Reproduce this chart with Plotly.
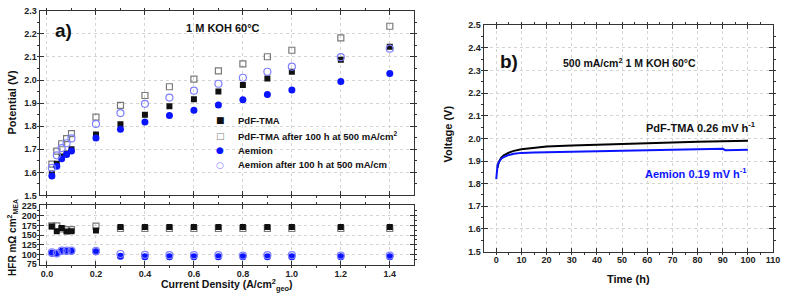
import plotly.graph_objects as go

# ---------------- data: panel a) polarization ----------------
J = [0.02, 0.04, 0.06, 0.08, 0.1, 0.2, 0.3, 0.4, 0.5, 0.6, 0.7, 0.8, 0.9, 1.0, 1.2, 1.4]
pdf_v = [1.595, 1.637, 1.669, 1.682, 1.700, 1.764, 1.808, 1.850, 1.886, 1.917, 1.950, 1.978, 2.007, 2.036, 2.088, 2.144]
pdf_aged_v = [1.636, 1.692, 1.724, 1.746, 1.768, 1.839, 1.890, 1.933, 1.971, 2.004, 2.040, 2.070, 2.101, 2.129, 2.183, 2.233]
aem_v = [1.584, 1.626, 1.659, 1.677, 1.692, 1.749, 1.787, 1.818, 1.846, 1.869, 1.892, 1.915, 1.937, 1.957, 1.994, 2.028]
aem_aged_v = [1.619, 1.674, 1.705, 1.726, 1.747, 1.810, 1.857, 1.897, 1.924, 1.954, 1.984, 2.010, 2.036, 2.058, 2.099, 2.136]

pdf_hfr = [172, 160, 168, 159, 160, 162, 171, 171, 171, 171, 171, 171, 171, 171, 171, 171]
pdf_aged_hfr = [174, 174, 166, 164, 164, 173, 167, 167, 167, 167, 167, 167, 167, 167, 167, 167]
aem_hfr = [103, 102, 108, 108, 108, 107, 95, 94, 94, 94, 94, 94, 94, 94, 94, 94]
aem_aged_hfr = [105, 103, 110, 110, 110, 109, 101, 99, 98, 98, 98, 97, 98, 98, 97, 97]

legend_labels = ["PdF-TMA", "PdF-TMA after 100 h at 500 mA/cm<sup>2</sup>",
                 "Aemion", "Aemion after 100 h at 500 mA/cm"]

# ---------------- data: panel b) durability ----------------
t_pdf = [0.5, 1, 2, 3, 5, 7, 10, 15, 20, 30, 40, 50, 60, 70, 80, 90, 100]
v_pdf = [1.870, 1.895, 1.915, 1.925, 1.937, 1.945, 1.952, 1.959, 1.964, 1.969, 1.973, 1.976, 1.979, 1.982, 1.985, 1.988, 1.990]
t_aem = [0, 0.2, 0.5, 1, 2, 3, 5, 7, 10, 15, 20, 30, 40, 50, 60, 70, 80, 88, 90, 91, 95, 100]
v_aem = [1.820, 1.860, 1.880, 1.895, 1.910, 1.918, 1.927, 1.932, 1.936, 1.938, 1.939, 1.940, 1.941, 1.943,
         1.945, 1.947, 1.949, 1.952, 1.954, 1.948, 1.949, 1.950]

W, H = 789, 300
def px(x):
    return x / W
def py(y):
    return 1 - y / H

FONT = "Liberation Sans, Arial, sans-serif"
BLACK = "#111111"
GRAY = "#7a7a7a"
BLUE = "#0a14ff"
LBLUE = "#7f7fff"

fig = go.Figure()

def add_set(xa, ya, vals):
    fig.add_trace(go.Scatter(x=J, y=vals[0], mode="markers", xaxis=xa, yaxis=ya, showlegend=False,
                             marker=dict(symbol="square-open", size=6, color=GRAY, line=dict(width=1.2, color=GRAY))))
    fig.add_trace(go.Scatter(x=J, y=vals[1], mode="markers", xaxis=xa, yaxis=ya, showlegend=False,
                             marker=dict(symbol="square", size=6, color=BLACK)))
    fig.add_trace(go.Scatter(x=J, y=vals[2], mode="markers", xaxis=xa, yaxis=ya, showlegend=False,
                             marker=dict(symbol="circle", size=7, color=BLUE)))
    fig.add_trace(go.Scatter(x=J, y=vals[3], mode="markers", xaxis=xa, yaxis=ya, showlegend=False,
                             marker=dict(symbol="circle-open", size=7, color=LBLUE, line=dict(width=1.2, color=LBLUE))))

add_set("x", "y", [pdf_aged_v, pdf_v, aem_v, aem_aged_v])
add_set("x2", "y2", [pdf_aged_hfr, pdf_hfr, aem_hfr, aem_aged_hfr])

fig.add_trace(go.Scatter(x=t_pdf, y=v_pdf, mode="lines", xaxis="x3", yaxis="y3", showlegend=False,
                         line=dict(color="#000000", width=2)))
fig.add_trace(go.Scatter(x=t_aem, y=v_aem, mode="lines", xaxis="x3", yaxis="y3", showlegend=False,
                         line=dict(color=BLUE, width=2)))

tickfont = dict(family=FONT, size=9, color="#222222", weight="bold")
axis_common = dict(showline=True, linecolor="#333333", linewidth=1, mirror="ticks",
                   ticks="inside", ticklen=4, tickcolor="#333333", tickfont=tickfont,
                   showgrid=True, gridcolor="#d4d4d4", griddash="dot", gridwidth=1, zeroline=False)

xdom_l = [px(40), px(418)]
fig.update_layout(
    width=W, height=H, margin=dict(l=0, r=0, t=0, b=0),
    paper_bgcolor="white", plot_bgcolor="white",
    xaxis=dict(domain=xdom_l, anchor="y", range=[-0.03, 1.5], dtick=0.2, showticklabels=False,
               minor=dict(dtick=0.1, ticklen=2, tickcolor="#333333", showgrid=False), **axis_common),
    yaxis=dict(domain=[py(197), py(6)], anchor="x", range=[1.5, 2.3], dtick=0.1, tickformat=".1f",
               minor=dict(dtick=0.05, ticklen=2, tickcolor="#333333", showgrid=False), **axis_common),
    xaxis2=dict(domain=xdom_l, anchor="y2", range=[-0.03, 1.5], dtick=0.2, tickformat=".1f", matches="x",
                minor=dict(dtick=0.1, ticklen=2, tickcolor="#333333", showgrid=False), **axis_common),
    yaxis2=dict(domain=[py(269), py(207)], anchor="x2", range=[72.5, 227.5], dtick=25,
                minor=dict(dtick=12.5, ticklen=2, tickcolor="#333333", showgrid=False), **axis_common),
    xaxis3=dict(domain=[px(488), px(780)], anchor="y3", range=[-5, 110], dtick=10,
                minor=dict(dtick=5, ticklen=2, tickcolor="#333333", showgrid=False), **axis_common),
    yaxis3=dict(domain=[py(255), py(21)], anchor="x3", range=[1.5, 2.5], dtick=0.1, tickformat=".1f",
                minor=dict(dtick=0.05, ticklen=2, tickcolor="#333333", showgrid=False), **axis_common),
)

ann = []
def text(x, y, s, size, color="#111111", xanchor="center", angle=0):
    ann.append(dict(x=px(x), y=py(y), xref="paper", yref="paper", text=s, showarrow=False,
                    xanchor=xanchor, yanchor="middle", textangle=angle,
                    font=dict(family=FONT, size=size, color=color, weight="bold")))

# axis titles
text(12, 100, "Potential (V)", 11, angle=-90)
text(12, 240, "HFR mΩ cm<sup>2</sup><sub>MEA</sub>", 10, angle=-90)
text(229, 290, "Current Density (A/cm<sup>2</sup><sub>geo</sub>)", 10.5)
text(452, 133, "Voltage (V)", 11, angle=-90)
text(634, 283, "Time (h)", 11)

# panel labels
text(53, 26, "a)", 19, xanchor="left")
text(186, 24, "1 M KOH 60°C", 11, xanchor="left")
text(502, 58, "b)", 19, xanchor="left")
text(566, 60, "500 mA/cm<sup>2</sup> 1 M KOH 60°C", 10.5, xanchor="left")
text(650, 126, "PdF-TMA 0.26 mV h<sup>-1</sup>", 11, xanchor="left")
text(649, 174, "Aemion 0.19 mV h<sup>-1</sup>", 11, color=BLUE, xanchor="left")

# legend (text entries with glyph keys)
leg_y = [119, 135, 150, 165]
leg_sym = ["■", "□", "●", "○"]
leg_col = [BLACK, GRAY, BLUE, LBLUE]
for yy, sym, col, lab in zip(leg_y, leg_sym, leg_col, legend_labels):
    ann.append(dict(x=px(222), y=py(yy), xref="paper", yref="paper", text=sym, showarrow=False,
                    xanchor="center", yanchor="middle",
                    font=dict(family="DejaVu Sans", size=9, color=col)))
    text(238, yy, lab, 9.5, xanchor="left")

fig.update_layout(annotations=ann)
fig.write_html("out.html", config={"displayModeBar": False},
               post_script="document.body.style.margin='0';document.body.style.overflow='hidden';")
